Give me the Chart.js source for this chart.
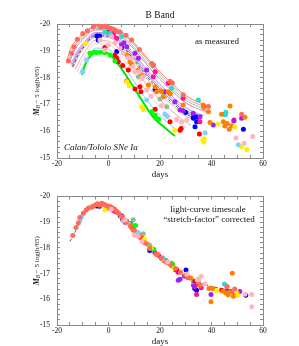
<!DOCTYPE html>
<html>
<head>
<meta charset="utf-8">
<script src="https://cdn.jsdelivr.net/npm/chart.js@4.4.0/dist/chart.umd.min.js"></script>
<style>
html, body { margin: 0; padding: 0; background: #fff; }
#wrap { position: relative; width: 299px; height: 346px; }
canvas { position: absolute; left: 0; }
#topChart { top: 0; }
#botChart { top: 182px; }
</style>
</head>
<body>
<div id="wrap">
  <canvas id="topChart" width="299" height="182"></canvas>
  <canvas id="botChart" width="299" height="164"></canvas>
</div>
<script>
// axis ranges / tick steps
const dayRange = [-20, 60];
const magRange = [-20, -15];
const dayMajor = 20, dayMinor = 5;
const magMajor = 1, magMinor = 0.2;

// --- top panel: fitted light curves (day, mag) ---
const curveSalmon = [[-16,-18.68],[-14.7,-19.09],[-12.4,-19.4],[-9.8,-19.65],[-7,-19.85],[-4,-19.96],[0,-19.93],[4,-19.78],[8,-19.48],[12,-19.08],[16.8,-18.53],[20,-18.22],[23.9,-17.85],[29,-17.4],[34,-17.12],[38.8,-16.95]];
const curveCoral = [[-15.7,-18.65],[-13,-19.22],[-10,-19.56],[-5,-19.88],[0,-19.88],[5,-19.68],[10,-19.22],[15,-18.66],[20,-18.12],[25,-17.66],[30,-17.24],[35,-17.0],[38.8,-16.88]];
const curveAqua = [[-15.4,-18.6],[-13,-19.15],[-10,-19.49],[-5,-19.83],[0,-19.83],[5,-19.61],[10,-19.13],[15,-18.56],[20,-18.03],[25,-17.56],[30,-17.15],[35,-16.92],[38.5,-16.8]];
const curveHotPink = [[-15.2,-18.55],[-13,-19.05],[-10,-19.42],[-5,-19.78],[0,-19.78],[5,-19.54],[10,-19.05],[15,-18.47],[20,-17.93],[25,-17.47],[30,-17.06],[35,-16.83],[38.5,-16.72]];
const curvePurple = [[-14.6,-18.5],[-12,-19.0],[-10,-19.27],[-5,-19.68],[0,-19.67],[5,-19.4],[10,-18.88],[15,-18.28],[20,-17.74],[25,-17.28],[30,-16.88],[35,-16.65],[37,-16.58]];
const curveOrchid = [[-14.3,-18.45],[-12,-18.92],[-10,-19.2],[-5,-19.64],[0,-19.62],[5,-19.33],[10,-18.79],[15,-18.18],[20,-17.64],[25,-17.19],[30,-16.79],[35,-16.56],[36.5,-16.5]];
const curveSlate = [[-14.1,-18.42],[-12,-18.86],[-10,-19.14],[-5,-19.6],[0,-19.58],[5,-19.27],[10,-18.72],[15,-18.1],[20,-17.57],[25,-17.11],[30,-16.72],[36,-16.45]];
const curveGray = [[-13.9,-18.4],[-12,-18.8],[-10,-19.09],[-5,-19.56],[0,-19.54],[5,-19.22],[10,-18.65],[15,-18.03],[20,-17.49],[25,-17.04],[30,-16.65],[35.5,-16.41]];
const curveTan = [[-13.7,-18.37],[-12,-18.74],[-10,-19.03],[-5,-19.52],[0,-19.5],[5,-19.16],[10,-18.59],[15,-17.95],[20,-17.41],[25,-16.96],[30,-16.57],[35,-16.36]];
const curvePink = [[-13,-18.3],[-10,-18.84],[-5,-19.39],[0,-19.36],[5,-18.98],[10,-18.37],[15,-17.7],[20,-17.16],[25,-16.72],[30,-16.34],[32,-16.22]];
const curvePalePink = [[-12.2,-18.22],[-10,-18.66],[-5,-19.26],[0,-19.23],[5,-18.8],[10,-18.14],[15,-17.46],[20,-16.91],[25,-16.48],[30,-16.12]];
const curveLightBlue = [[-11.2,-18.15],[-10,-18.41],[-5,-19.1],[0,-19.05],[5,-18.56],[10,-17.85],[15,-17.14],[20,-16.59],[25,-16.16],[27,-16.02]];
const curveGreen = [[-10.4,-18.1],[-8.5,-18.6],[-6,-18.9],[-3,-18.97],[0,-18.9],[3,-18.6],[6,-18.2],[9,-17.75],[12,-17.3],[16,-16.7],[18,-16.45],[21,-16.2],[23.5,-16.0],[25.8,-15.82]];

// --- top panel: measured points ---
const topSalmon = [[-15.6,-18.62],[-14.3,-18.91],[-13.4,-19.15],[-12.1,-19.43],[-10,-19.65],[-8.2,-19.75],[-5.9,-19.9],[-4.2,-19.99],[-3,-19.88],[-2.6,-19.95],[-1.2,-19.96],[-0.7,-19.88],[0.6,-19.85],[1.9,-19.8],[3,-19.74],[4.5,-19.7],[6.8,-19.58],[9,-19.4],[12,-19.05],[16.8,-18.53],[17.4,-18.45],[23.9,-17.86],[24.8,-17.8],[29,-17.36],[38.8,-16.92],[51.7,-16.63]];
const topPink = [[-3.3,-19.4],[-1.4,-19.03],[-0.1,-19.22],[1.2,-19.53],[2.5,-19.3],[4.5,-19.09],[5.7,-18.91],[7.5,-18.75],[9,-18.72],[9.6,-18.41],[10.3,-18.22],[12,-18.22],[12.9,-17.97],[13.5,-18.03],[14.8,-17.54],[16.5,-17.3],[20.5,-16.95],[26.5,-16.45],[28.4,-16.35],[30.4,-16.42],[49.5,-15.75],[52.7,-15.55],[56,-15.8]];
const topRed = [[-1.4,-19.12],[2.5,-18.84],[3.2,-18.72],[3.8,-18.59],[5.5,-18.45],[7.7,-18.28],[7.1,-17.87],[10.3,-17.57],[12.2,-17.66],[12.6,-17.47],[18.1,-16.82],[23.9,-16.35],[27.8,-16.04],[28.2,-16.1],[35.3,-15.9]];
const topOrange = [[7.1,-18.84],[8.3,-18.59],[9,-18.5],[11.6,-18.28],[13,-18.1],[15.5,-17.72],[18.1,-17.66],[18.7,-17.47],[20.5,-17.5],[21.3,-17.29],[23.2,-17.47],[24,-17.4],[29,-16.98],[36.8,-16.98],[37,-16.88],[38.8,-16.73],[39.4,-16.32],[43.9,-16.63],[44.6,-16.35],[45.2,-16.19],[46.1,-16.29],[46.9,-16.07],[47.2,-16.94],[47.8,-16.2],[53,-16.52]];
const topYellow = [[-9.1,-19.28],[7.1,-17.85],[8,-17.7],[12.9,-16.91],[13.5,-16.8],[25.8,-16.04],[36.6,-15.67],[37,-15.6],[37.2,-15.72],[42.6,-16.27],[49.1,-16.17],[51.7,-15.42],[53.7,-15.32]];
const topGreen = [[-7.2,-18.91],[-5.5,-18.95],[-4.6,-18.94],[-3,-18.95],[-1.4,-18.93],[0.6,-18.84],[2.5,-18.62],[16.8,-16.73],[18.1,-16.6],[18.7,-16.48],[19.5,-16.45]];
const topBlue = [[-4.5,-19.55],[-3.5,-19.55],[-4,-19.4],[3.2,-18.97],[5,-19.1],[18.1,-17.56],[30,-16.7],[32.9,-16.52],[33,-16.48],[34.2,-16.54],[34.2,-16.35],[33.6,-16.17],[45.2,-16.63],[52.4,-16.07]];
const topPurple = [[5.1,-19.22],[6,-19.3],[7.1,-19.15],[10.3,-18.91],[11.6,-18.72],[14.8,-18.28],[21.9,-17.47],[25.8,-17.1],[27.8,-16.79],[29,-16.76],[32.9,-16.67],[35.5,-16.54],[40.7,-16.23],[48.7,-16.38],[51.7,-16.48]];
const topMagenta = [[-0.1,-19.71],[1.9,-19.59],[2,-19.7],[3.2,-19.47],[17.4,-18.47],[18.1,-18.22],[17.4,-18.03],[23.2,-17.79],[29,-17.23],[35.5,-16.35],[48.7,-16.42]];
const topCyan = [[-1.4,-19.71],[0.6,-19.65],[5.1,-19.53],[24.5,-17.6],[34.9,-17.16],[45.6,-16.71],[45.4,-16.62]];
const topLightBlue = [[-10,-18.22],[-8.5,-18.66],[14.8,-17.16],[21.9,-16.63],[22.8,-16.55],[37.5,-15.94],[50.4,-15.49]];
const topSeaGreen = [[11.6,-18.03],[20,-17.2],[22.6,-16.91]];

// --- bottom panel: template curve and stretch-corrected points ---
const templateCurve = [[-15,-18.25],[-13,-18.62],[-11,-19.05],[-9,-19.38],[-7,-19.58],[-4,-19.7],[-1,-19.66],[2,-19.48],[5,-19.2],[8,-18.9],[11,-18.55],[14,-18.2],[17,-17.9],[20,-17.62],[24,-17.3],[28,-17.02],[32,-16.8],[36,-16.62],[40,-16.5],[45,-16.4],[50,-16.34]];
const botSalmon = [[-13.9,-18.48],[-12.6,-18.79],[-11.7,-18.97],[-11.1,-19.18],[-9.8,-19.35],[-8.7,-19.47],[-7.8,-19.55],[-6.5,-19.58],[-5.9,-19.62],[-5,-19.68],[-4.2,-19.72],[-3.5,-19.66],[-2.6,-19.74],[-1.8,-19.7],[-1,-19.66],[0,-19.62],[0.8,-19.6],[1.6,-19.55],[2.4,-19.5],[3.2,-19.42],[4,-19.35],[5.5,-19.2],[7,-19.0],[8.5,-18.85],[10,-18.7],[12,-18.45],[14,-18.2],[16,-17.98],[18.5,-17.75],[20.5,-17.6],[22.5,-17.45],[24,-17.35],[26,-17.2],[28,-17.05],[31,-16.85],[35,-16.62],[46,-16.5],[49,-16.4]];
const botRed = [[3,-19.4],[5.5,-19.1],[9,-18.8],[12.5,-18.4],[22,-17.5],[26.5,-17.15],[33.5,-16.7],[44,-16.35],[47,-16.3]];
const botOrange = [[-3,-19.68],[-0.5,-19.58],[1.5,-19.5],[6,-19.05],[9.5,-18.7],[10.5,-18.62],[12,-18.5],[13.5,-18.3],[15,-18.15],[19,-17.75],[21.5,-17.5],[24.5,-17.3],[30,-16.95],[32,-16.82],[35.5,-16.55],[39,-16.42],[39.8,-15.9],[40.5,-16.42],[44.5,-16.32],[45.5,-16.25],[46.5,-16.18],[47,-16.28],[48.1,-17.01],[48.5,-16.12],[50,-16.25]];
const botYellow = [[-1.4,-19.47],[7.5,-18.95],[14,-18.35],[16.5,-18.0],[25.5,-17.2],[34.5,-16.75],[42,-16.33],[49.5,-16.3],[50.3,-16.15]];
const botGreen = [[-6.5,-19.59],[9,-18.9],[10.5,-18.87],[17.5,-17.95],[24.5,-17.4],[25,-17.35]];
const botCyan = [[0.5,-19.6],[5,-19.2],[8,-18.95],[13,-18.5],[21,-17.62],[22.5,-17.5],[33,-16.68],[40.5,-16.42],[45,-16.6]];
const botBlue = [[-4.6,-19.63],[-3.5,-19.62],[6.5,-19.0],[8.5,-18.95],[16,-17.9],[30.1,-17.14],[31,-16.85],[33.5,-16.42],[34.2,-16.35],[34.8,-16.6],[53.3,-16.16]];
const botPurple = [[4.5,-19.25],[7,-19.05],[11,-18.55],[18,-17.82],[20.5,-17.6],[27.1,-16.74],[27.8,-16.78],[29.5,-16.9],[33,-16.55],[39.8,-16.19],[46,-16.35],[51,-16.3]];
const botMagenta = [[0,-19.55],[2,-19.45],[5.2,-19.25],[12,-18.45],[19.5,-17.7],[26,-17.15],[27,-17.05],[33.5,-16.5],[34.2,-16.19],[36,-16.45],[49,-16.28]];
const botPink = [[1,-19.5],[6.5,-19.1],[10,-18.5],[11.5,-18.45],[13,-18.25],[23,-17.45],[30.5,-16.98],[35,-16.75],[36,-16.9],[37.5,-16.6],[53,-16.2],[55.6,-16.19],[55.6,-15.71]];
const botLightBlue = [[-11.1,-19.07],[-10.5,-19.2],[5.8,-19.05],[11.5,-18.6],[21,-17.55],[35,-16.78],[46,-16.5]];
const botSeaGreen = [[9.6,-19.1],[13.5,-18.55],[16,-18.1],[23,-17.4]];

const AXIS = '#8a8a8a';
const SERIF = "'Liberation Serif', 'DejaVu Serif', serif";

function toXY(pts) { return pts.map(p => ({ x: p[0], y: p[1] })); }

function lineSet(pts, color, width, dash) {
    return {
        data: toXY(pts), showLine: true, borderColor: color, borderWidth: width,
        borderDash: dash || [], pointRadius: 0, cubicInterpolationMode: 'monotone',
        fill: false, order: 2
    };
}

function dotSet(pts, color) {
    return {
        data: toXY(pts), backgroundColor: color, borderWidth: 0,
        pointRadius: 2.5, pointHoverRadius: 2.5, order: 1
    };
}

function isMajor(v, step) {
    const r = v / step;
    return Math.abs(r - Math.round(r)) < 1e-6;
}

// one axis; `size` fixes its box so both panels share the same plot frame
function axis(pos, size, range, minor, major, labels, title, titlePad) {
    const horiz = pos === 'top' || pos === 'bottom';
    return {
        type: 'linear', position: pos, min: range[0], max: range[1],
        reverse: !horiz,
        ticks: {
            stepSize: minor, maxTicksLimit: 200, autoSkip: false, maxRotation: 0,
            padding: horiz ? 5 : 10, color: '#111',
            font: { family: SERIF, size: 7.5 },
            callback: v => (labels && isMajor(v, major)) ? String(Math.round(v)) : ''
        },
        grid: { drawOnChartArea: false, tickLength: -3, color: AXIS, tickColor: AXIS },
        border: { color: AXIS, width: 1 },
        title: title ? { display: true, text: title, color: '#111', padding: { top: 0, bottom: titlePad },
                         font: { family: SERIF, size: 9, lineHeight: 1 } } : { display: false },
        afterFit: s => { if (horiz) s.height = size; else s.width = size; }
    };
}

// annotation text and the y title with its subscript
const notes = {
    id: 'notes',
    afterDraw(chart, args, opts) {
        const ctx = chart.ctx;
        const a = chart.chartArea;
        ctx.save();
        ctx.fillStyle = '#111';
        ctx.textBaseline = 'middle';
        (opts.items || []).forEach(t => {
            ctx.font = t.font;
            ctx.textAlign = t.align || 'center';
            ctx.fillText(t.text, t.x, t.y);
        });
        // y-axis title, rotated
        ctx.translate(37, (a.top + a.bottom) / 2);
        ctx.rotate(-Math.PI / 2);
        const parts = [
            { t: 'M', f: 'italic bold 8px ' + SERIF, dy: 0 },
            { t: 'B', f: 'italic 5.5px ' + SERIF, dy: 1.8 },
            { t: ' \u2212 5 log(h/65)', f: '7px ' + SERIF, dy: 0 }
        ];
        let w = 0;
        parts.forEach(p => { ctx.font = p.f; p.w = ctx.measureText(p.t).width; w += p.w; });
        let x = -w / 2;
        ctx.textAlign = 'left';
        parts.forEach(p => { ctx.font = p.f; ctx.fillText(p.t, x, p.dy); x += p.w; });
        ctx.restore();
    }
};

function makeChart(id, datasets, boxes, bottomTitlePad, items) {
    return new Chart(document.getElementById(id), {
        type: 'scatter',
        data: { datasets: datasets },
        options: {
            responsive: false, animation: false, events: [],
            layout: { padding: 0 },
            plugins: { legend: { display: false }, tooltip: { enabled: false }, notes: { items: items } },
            scales: {
                x: axis('bottom', boxes.bottom, dayRange, dayMinor, dayMajor, true, 'days', bottomTitlePad),
                x2: axis('top', boxes.top, dayRange, dayMinor, dayMajor, false),
                y: axis('left', boxes.left, magRange, magMinor, magMajor, true),
                y2: axis('right', boxes.right, magRange, magMinor, magMajor, false)
            }
        },
        plugins: [notes]
    });
}

const topSets = [
    lineSet(curveSalmon, '#ff7060', 1),
    lineSet(curveCoral, '#ff9580', 1),
    lineSet(curveAqua, '#5fe0bd', 1),
    lineSet(curveHotPink, '#ff6eb0', 1),
    lineSet(curvePurple, '#b08af0', 1),
    lineSet(curveOrchid, '#dd80dd', 1),
    lineSet(curveSlate, '#7d7df0', 1),
    lineSet(curveGray, '#555555', 1, [3, 2]),
    lineSet(curveTan, '#c9b98f', 1),
    lineSet(curvePink, '#ffa2aa', 1),
    lineSet(curvePalePink, '#ffcaca', 1),
    lineSet(curveLightBlue, '#8ccdf5', 1),
    lineSet(curveGreen, '#00e600', 2),
    dotSet(topPink, '#ffb6c1'),
    dotSet(topSalmon, '#ff6a5a'),
    dotSet(topLightBlue, '#87cefa'),
    dotSet(topSeaGreen, '#8fbc8f'),
    dotSet(topYellow, '#ffee00'),
    dotSet(topGreen, '#00ff00'),
    dotSet(topOrange, '#ff7f00'),
    dotSet(topRed, '#ff0000'),
    dotSet(topCyan, '#20e0d0'),
    dotSet(topPurple, '#a020f0'),
    dotSet(topMagenta, '#ff10a0'),
    dotSet(topBlue, '#0000ff')
];

const botSets = [
    lineSet(templateCurve, '#555555', 1, [3, 2]),
    dotSet(botPink, '#ffb6c1'),
    dotSet(botSalmon, '#ff6a5a'),
    dotSet(botLightBlue, '#87cefa'),
    dotSet(botSeaGreen, '#8fbc8f'),
    dotSet(botYellow, '#ffee00'),
    dotSet(botGreen, '#00ff00'),
    dotSet(botOrange, '#ff7f00'),
    dotSet(botRed, '#ff0000'),
    dotSet(botCyan, '#20e0d0'),
    dotSet(botPurple, '#a020f0'),
    dotSet(botMagenta, '#ff10a0'),
    dotSet(botBlue, '#0000ff')
];

makeChart('topChart', topSets, { left: 57, right: 36, top: 24, bottom: 24 }, 2.5, [
    { text: 'B Band', x: 160, y: 15, font: '9.5px ' + SERIF },
    { text: 'as measured', x: 217, y: 42, font: '9px ' + SERIF },
    { text: 'Calan/Tololo SNe Ia', x: 64, y: 148, align: 'left', font: 'italic 9px ' + SERIF }
]);

makeChart('botChart', botSets, { left: 57, right: 36, top: 9, bottom: 21 }, 0, [
    { text: 'light-curve timescale', x: 208, y: 28, font: '9px ' + SERIF },
    { text: '\u201Cstretch-factor\u201D corrected', x: 209, y: 38, font: '9px ' + SERIF }
]);
</script>
</body>
</html>
